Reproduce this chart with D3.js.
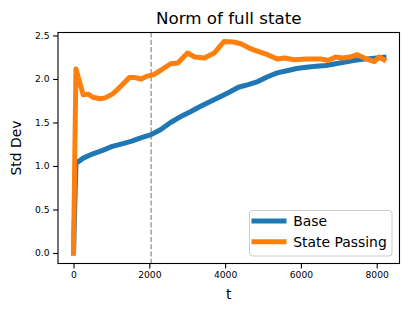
<!DOCTYPE html>
<meta charset="utf-8">
<style>
body { margin: 0; background: #fff; }
svg text { font-family: "DejaVu Sans", sans-serif; fill: #000; }
</style>
<body>
<script src="https://d3js.org/d3.v7.min.js"></script>
<script>

// data
var baseT = [0, 64, 256, 512, 768, 1024, 1280, 1536, 1792, 2048, 2304, 2560, 2816, 3072, 3328, 3584,
  3840, 4096, 4352, 4608, 4864, 5120, 5376, 5632, 5888, 6144, 6400, 6656, 6912, 7168, 7424, 7680, 7936, 8192];
var baseStd = [0, 1.03, 1.09, 1.14, 1.18, 1.225, 1.255, 1.285, 1.325, 1.36, 1.42, 1.50, 1.565, 1.62, 1.68, 1.735,
  1.79, 1.845, 1.905, 1.935, 1.97, 2.025, 2.07, 2.095, 2.12, 2.135, 2.145, 2.155, 2.175, 2.195, 2.215, 2.228, 2.238, 2.25];

var passT = [0, 64, 256, 384, 512, 704, 832, 1024, 1152, 1344, 1472, 1600, 1792, 1920, 2112, 2304, 2560, 2752,
  3008, 3200, 3456, 3712, 3968, 4224, 4416, 4672, 4864, 5120, 5376, 5568, 5824, 6144, 6528, 6720, 6912,
  7104, 7296, 7488, 7680, 7936, 8064, 8192];
var passStd = [0, 2.115, 1.818, 1.826, 1.79, 1.772, 1.783, 1.826, 1.875, 1.96, 2.017, 2.017, 2.0, 2.03, 2.05, 2.10,
  2.175, 2.183, 2.298, 2.252, 2.24, 2.298, 2.43, 2.425, 2.405, 2.348, 2.317, 2.279, 2.229, 2.24, 2.221, 2.229,
  2.229, 2.213, 2.252, 2.24, 2.252, 2.279, 2.24, 2.2, 2.252, 2.221];

var xTicks = [0, 2000, 4000, 6000, 8000];
var yTicks = [0, 0.5, 1.0, 1.5, 2.0, 2.5];
var splitT = 2048;
var seriesNames = ["Base", "State Passing"];
var colors = ["#1f77b4", "#ff7f0e"];

//axes box
var W = 408, H = 312;
var box = {left: 58, right: 399.5, top: 32.5, bottom: 263.5};

var x = d3.scaleLinear().domain([-409.6, 8601.6]).range([box.left, box.right]);
var y = d3.scaleLinear().domain([-0.1207, 2.534]).range([box.bottom, box.top]);

var svg = d3.select("body")
  .append("svg")
    .attr("width", W)
    .attr("height", H);

//split marker
svg.append("line")
    .attr("x1", x(splitT)).attr("x2", x(splitT))
    .attr("y1", box.top).attr("y2", box.bottom)
    .attr("stroke", "#808080")
    .attr("stroke-width", 1.1)
    .attr("stroke-dasharray", "5.1,2.2");

var line = d3.line()
    .x(d => x(d[0]))
    .y(d => y(d[1]));

var series = [
  d3.zip(baseT, baseStd),
  d3.zip(passT, passStd)
];

svg.selectAll(".series")
    .data(series)
  .enter()
  .append("path")
    .attr("class", "series")
    .attr("d", line)
    .attr("fill", "none")
    .attr("stroke", (d, i) => colors[i])
    .attr("stroke-width", 5)
    .attr("stroke-linejoin", "round")
    .attr("stroke-linecap", "square");

// x axis
var xAxis = svg.append("g")
    .attr("transform", "translate(0," + box.bottom + ")")
    .call(d3.axisBottom(x).tickValues(xTicks).tickFormat(d3.format("d")).tickSize(4.9).tickPadding(3.5));

// y axis
var yAxis = svg.append("g")
    .attr("transform", "translate(" + box.left + ",0)")
    .call(d3.axisLeft(y).tickValues(yTicks).tickFormat(d3.format(".1f")).tickSize(4.9).tickPadding(3.5));

[xAxis, yAxis].forEach(function(g) {
  g.select(".domain").remove();
  g.selectAll("line").attr("stroke", "#000").attr("stroke-width", 1.1);
  g.selectAll("text").style("font-size", "9.2px").style("font-family", "DejaVu Sans");
});

//frame
svg.append("rect")
    .attr("x", box.left).attr("y", box.top)
    .attr("width", box.right - box.left).attr("height", box.bottom - box.top)
    .attr("fill", "none")
    .attr("stroke", "#000")
    .attr("stroke-width", 1.1);

//title and labels
svg.append("text")
    .attr("x", (box.left + box.right) / 2).attr("y", 24)
    .attr("text-anchor", "middle")
    .style("font-size", "16.7px")
    .text("Norm of full state");

svg.append("text")
    .attr("x", (box.left + box.right) / 2).attr("y", 299)
    .attr("text-anchor", "middle")
    .style("font-size", "13.9px")
    .text("t");

svg.append("text")
    .attr("transform", "translate(21," + (box.top + box.bottom) / 2 + ") rotate(-90)")
    .attr("text-anchor", "middle")
    .style("font-size", "13.9px")
    .text("Std Dev");

//legend
var legend = svg.append("g");
legend.append("rect")
    .attr("x", 249.5).attr("y", 210.5)
    .attr("width", 142.5).attr("height", 45.5)
    .attr("rx", 3)
    .attr("fill", "#fff").attr("fill-opacity", 0.8)
    .attr("stroke", "#cccccc").attr("stroke-width", 1);

seriesNames.forEach(function(name, i) {
  var cy = 221 + i * 20.7;
  legend.append("line")
      .attr("x1", 254).attr("x2", 284)
      .attr("y1", cy).attr("y2", cy)
      .attr("stroke", colors[i])
      .attr("stroke-width", 5)
      .attr("stroke-linecap", "square");
  legend.append("text")
      .attr("x", 293.3).attr("y", cy + 5.2)
      .style("font-size", "13.9px")
      .text(name);
});

</script>
</body>
</html>
